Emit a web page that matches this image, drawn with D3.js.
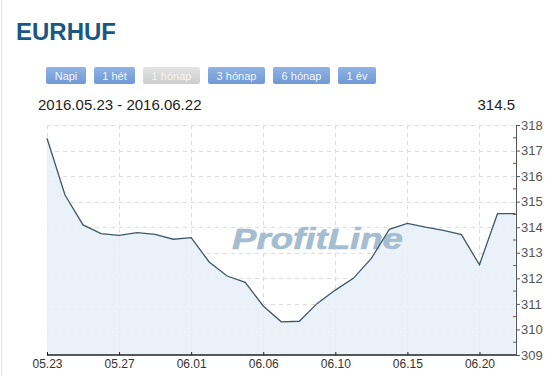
<!DOCTYPE html>
<html>
<head>
<meta charset="utf-8">
<script src="https://cdn.jsdelivr.net/npm/d3@7"></script>
<style>
  body { margin: 0; background: #fff; }
  svg { display: block; font-family: Arial, "Liberation Sans", sans-serif; }
</style>
</head>
<body>
<div id="chart"></div>
<script>
let w = 556;
let h = 376;
let margin = {top: 125, right: 40, bottom: 21, left: 47};

// data (one point per trading day)
let dates = ['05.23','05.24','05.25','05.26','05.27','05.28','05.30','05.31','06.01',
             '06.02','06.03','06.04','06.06','06.07','06.08','06.09','06.10','06.11',
             '06.13','06.14','06.15','06.16','06.17','06.18','06.20','06.21','06.22'];
let values = [317.48, 315.26, 314.09, 313.75, 313.68, 313.79, 313.72, 313.53, 313.59,
              312.64, 312.09, 311.84, 310.92, 310.30, 310.32, 311.02, 311.54, 312.00,
              312.78, 313.92, 314.15, 314.00, 313.88, 313.71, 312.53, 314.53, 314.53];
let xTicks = ['05.23','05.27','06.01','06.06','06.10','06.15','06.20'];
let yTicks = [309, 310, 311, 312, 313, 314, 315, 316, 317, 318];
let buttons = ['Napi', '1 hét', '1 hónap', '3 hónap', '6 hónap', '1 év'];
let activeButton = '1 hónap';
let rangeLabel = '2016.05.23 - 2016.06.22';
let lastLabel = '314.5';

const data = dates.map((d, i) => ({date: d, value: values[i]}));

let svg = d3.select('#chart')
    .append('svg')
    .attr('width', w)
    .attr('height', h);

// page border on the left
svg.append('line')
    .attr('x1', 1.5).attr('x2', 1.5)
    .attr('y1', 0).attr('y2', h)
    .attr('stroke', '#e6e6e6');

svg.append('text')
    .attr('x', 16)
    .attr('y', 40)
    .style('font-size', '24px')
    .style('font-weight', 'bold')
    .attr('fill', '#1a5884')
    .text('EURHUF');

// period buttons
let defs = svg.append('defs');
let blueGrad = defs.append('linearGradient').attr('id', 'btnBlue')
    .attr('x1', 0).attr('x2', 0).attr('y1', 0).attr('y2', 1);
blueGrad.append('stop').attr('offset', '0%').attr('stop-color', '#8fb3e3');
blueGrad.append('stop').attr('offset', '100%').attr('stop-color', '#6f99d6');
let greyGrad = defs.append('linearGradient').attr('id', 'btnGrey')
    .attr('x1', 0).attr('x2', 0).attr('y1', 0).attr('y2', 1);
greyGrad.append('stop').attr('offset', '0%').attr('stop-color', '#e4e4e4');
greyGrad.append('stop').attr('offset', '100%').attr('stop-color', '#cdcdcd');

let bx = 46;
buttons.forEach(b => {
    let g = svg.append('g').attr('transform', 'translate(' + bx + ',67)');
    let rect = g.append('rect')
        .attr('height', 17)
        .attr('rx', 2)
        .attr('fill', b === activeButton ? 'url(#btnGrey)' : 'url(#btnBlue)');
    let t = g.append('text')
        .attr('y', 12.5)
        .style('font-size', '11px')
        .attr('fill', b === activeButton ? '#f4f4f4' : '#f2f6fc')
        .text(b);
    let tw = t.node().getComputedTextLength();
    let bw = Math.round(tw + 17);
    rect.attr('width', bw);
    t.attr('x', (bw - tw) / 2);
    bx += bw + 8;
});

svg.append('text')
    .attr('x', 38)
    .attr('y', 110)
    .style('font-size', '15px')
    .attr('fill', '#222')
    .text(rangeLabel);

svg.append('text')
    .attr('x', 515)
    .attr('y', 110)
    .attr('text-anchor', 'end')
    .style('font-size', '15px')
    .attr('fill', '#222')
    .text(lastLabel);

let xScale = d3.scalePoint()
    .domain(dates)
    .range([margin.left, w - margin.right - 0.5]);

let yScale = d3.scaleLinear()
    .domain([309, 318])
    .range([h - margin.bottom, margin.top]);

// grid
svg.append('g')
    .selectAll('line')
    .data(yTicks.slice(1))
    .enter()
    .append('line')
    .attr('x1', margin.left)
    .attr('x2', xScale(dates[dates.length - 1]))
    .attr('y1', d => Math.round(yScale(d)) + 0.5)
    .attr('y2', d => Math.round(yScale(d)) + 0.5)
    .attr('stroke', '#dcdcdc')
    .attr('stroke-dasharray', '4,4');

svg.append('g')
    .selectAll('line')
    .data(xTicks)
    .enter()
    .append('line')
    .attr('x1', d => Math.round(xScale(d)) + 0.5)
    .attr('x2', d => Math.round(xScale(d)) + 0.5)
    .attr('y1', margin.top)
    .attr('y2', h - margin.bottom)
    .attr('stroke', '#dcdcdc')
    .attr('stroke-dasharray', '4,4');

// area
svg.append('path')
    .datum(data)
    .attr('d', d3.area()
        .x(d => xScale(d.date))
        .y0(yScale(309))
        .y1(d => yScale(d.value)))
    .attr('fill', '#e8eff7')
    .attr('fill-opacity', 0.9);

// watermark
svg.append('text')
    .attr('x', 232)
    .attr('y', 249)
    .attr('textLength', 171)
    .attr('lengthAdjust', 'spacingAndGlyphs')
    .style('font-size', '30px')
    .style('font-weight', 'bold')
    .style('font-style', 'italic')
    .attr('fill', '#a4bdd0')
    .attr('stroke', '#a4bdd0')
    .attr('stroke-width', 0.6)
    .text('ProfitLine');

svg.append('path')
    .datum(data)
    .attr('d', d3.line()
        .x(d => xScale(d.date))
        .y(d => yScale(d.value)))
    .attr('stroke', '#3f5869')
    .style('stroke-width', 1.3)
    .style('fill', 'none');

// x axis
let xAxis = d3.axisBottom(xScale)
    .tickValues(xTicks)
    .tickSize(4)
    .tickSizeOuter(0);

let gx = svg.append('g')
    .attr('transform', 'translate(0,' + (h - margin.bottom) + ')')
    .call(xAxis);
gx.select('.domain').attr('stroke', '#222').attr('stroke-width', 1.5)
    .attr('d', 'M' + margin.left + ',0H' + (w - margin.right));
gx.selectAll('.tick line').attr('stroke', '#222').attr('y1', -3).attr('y2', 0);
gx.selectAll('.tick text')
    .attr('y', 4)
    .attr('dy', '0.71em')
    .style('font-size', '12px')
    .attr('fill', '#333')
    .style('font-family', 'Arial, "Liberation Sans", sans-serif');

// y axis on the right
let yAxis = d3.axisRight(yScale)
    .tickValues(yTicks)
    .tickSize(4)
    .tickSizeOuter(0)
    .tickPadding(1);

let gy = svg.append('g')
    .attr('transform', 'translate(' + (w - margin.right) + ',0)')
    .call(yAxis);
gy.select('.domain').attr('stroke', '#555');
gy.selectAll('.tick line').attr('stroke', '#555');
gy.selectAll('.tick text')
    .style('font-size', '13px')
    .attr('fill', '#555')
    .style('font-family', 'Arial, "Liberation Sans", sans-serif');

// minor ticks at half units
gy.append('g')
    .selectAll('line')
    .data(yTicks.slice(1).map(d => d - 0.5))
    .enter()
    .append('line')
    .attr('x1', -3).attr('x2', 0)
    .attr('y1', d => yScale(d))
    .attr('y2', d => yScale(d))
    .attr('stroke', '#8a4a4a');
</script>
</body>
</html>
